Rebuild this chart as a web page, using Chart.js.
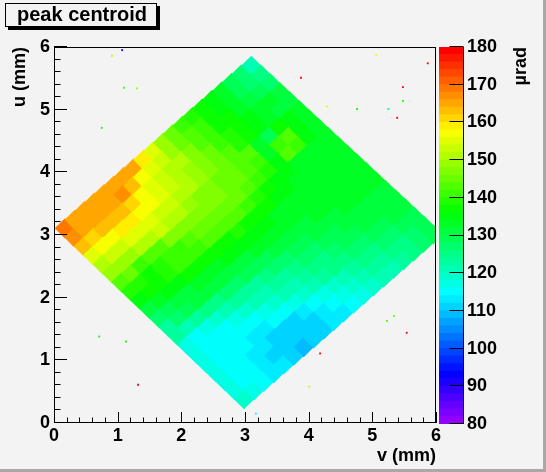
<!DOCTYPE html>
<html>
<head>
<meta charset="utf-8">
<script src="https://cdn.jsdelivr.net/npm/chart.js@4.4.0/dist/chart.umd.min.js"></script>
<style>
    html, body { margin: 0; padding: 0; background: #f3f3f3; }
    #wrap { position: relative; width: 546px; height: 472px; }
    #main { position: absolute; left: 0; top: 0; }
    #zbar { position: absolute; left: 439px; top: 0; }
</style>
</head>
<body>
<div id="wrap">
    <canvas id="main" width="546" height="472"></canvas>
    <canvas id="zbar" width="107" height="472"></canvas>
</div>
<script>
// Corners of the scanned region (mm): left, top, bottom, right
const cornerV = [0.02, 3.10, 2.98, 6.11];
const cornerU = [3.11, 5.84, 0.24, 3.01];

// Peak centroid (µrad) on the scan grid.
// Rows run from the upper-left edge to the lower-right edge,
// columns from the lower-left edge to the upper-right edge.
const centroid = [
    [168, 165, 165, 165, 165, 165, 165, 165, 158, 154, 148, 144, 141, 139, 137, 135, 133, 129, 126, 120],
    [166, 164, 164, 165, 165, 166, 162, 157, 154, 152, 148, 145, 143, 141, 138, 135, 133, 129, 126, 124],
    [163, 161, 162, 162, 162, 160, 157, 155, 153, 151, 150, 146, 143, 140, 138, 136, 133, 131, 129, 127],
    [155, 157, 157, 158, 158, 157, 156, 154, 152, 151, 149, 146, 144, 141, 139, 137, 135, 133, 132, 130],
    [151, 152, 153, 154, 154, 154, 153, 152, 151, 150, 148, 146, 145, 143, 139, 137, 134, 132, 131, 131],
    [148, 149, 149, 150, 151, 152, 151, 150, 149, 147, 146, 145, 144, 143, 142, 132, 129, 138, 134, 133],
    [143, 144, 141, 142, 143, 146, 147, 147, 147, 146, 146, 145, 144, 143, 141, 132, 141, 143, 134, 133],
    [139, 139, 138, 139, 140, 141, 143, 145, 145, 145, 144, 144, 143, 141, 139, 135, 142, 140, 134, 133],
    [135, 137, 138, 139, 140, 141, 141, 142, 142, 142, 142, 141, 139, 137, 135, 134, 133, 133, 133, 133],
    [131, 133, 134, 135, 136, 136, 137, 138, 138, 139, 138, 137, 136, 135, 134, 133, 133, 133, 133, 133],
    [127, 128, 130, 131, 132, 133, 133, 134, 134, 134, 134, 134, 133, 133, 133, 133, 133, 132, 132, 132],
    [123, 126, 128, 130, 131, 131, 131, 131, 131, 132, 132, 133, 133, 133, 133, 133, 132, 132, 132, 132],
    [122, 121, 123, 124, 125, 126, 127, 128, 128, 129, 130, 131, 131, 131, 132, 132, 132, 132, 132, 132],
    [117, 115, 116, 118, 120, 122, 123, 123, 124, 126, 127, 128, 129, 130, 131, 131, 132, 132, 132, 132],
    [116, 115, 115, 115, 117, 119, 120, 121, 122, 123, 125, 126, 127, 128, 129, 130, 131, 131, 131, 131],
    [116, 115, 114, 114, 114, 115, 117, 118, 120, 121, 123, 124, 125, 127, 128, 129, 130, 130, 131, 131],
    [116, 115, 114, 114, 113, 113, 114, 115, 116, 118, 121, 122, 124, 125, 126, 127, 128, 129, 130, 130],
    [116, 115, 114, 113, 112, 111, 111, 111, 112, 114, 116, 119, 121, 123, 124, 125, 126, 127, 128, 129],
    [117, 115, 114, 113, 111, 110, 110, 110, 111, 113, 115, 116, 118, 120, 122, 123, 124, 125, 126, 128],
    [118, 116, 114, 113, 112, 111, 109, 110, 111, 113, 113, 114, 116, 118, 120, 121, 122, 124, 126, 128]
];

// Isolated points lying outside the scanned region
const strayV = [1.07, 0.91, 1.10, 1.30, 0.75, 3.88, 5.06, 5.87, 5.48, 5.48, 4.29, 4.76, 5.25, 5.39, 0.71, 1.13, 1.32, 4.18, 4.01, 5.23, 5.34, 5.54, 3.17];
const strayU = [5.95, 5.86, 5.35, 5.34, 4.71, 5.51, 5.87, 5.74, 5.36, 5.14, 5.05, 5.01, 5.01, 4.87, 1.38, 1.30, 0.61, 1.11, 0.58, 1.63, 1.71, 1.44, 0.15];
const strayVal = [92, 150, 140, 146, 138, 178, 156, 178, 178, 138, 155, 138, 120, 178, 134, 138, 178, 178, 150, 140, 142, 178, 116];

// Axis ticks
const axisTicks = [0, 1, 2, 3, 4, 5, 6];
const minorPerMajor = 5;
const zTicks = [80, 90, 100, 110, 120, 130, 140, 150, 160, 170, 180];
const zMin = 80;
const zMax = 180;
const zLevels = 50;

const boldFont = { family: '"Liberation Sans", Arial, sans-serif', size: 18, weight: 'bold' };

/**
 * Rainbow palette: 50 levels from violet to red
 */
function paletteColor(val) {
    let k = Math.floor((val - zMin) / (zMax - zMin) * zLevels);
    k = Math.max(0, Math.min(zLevels - 1, k));
    const hue = 280 - (k + 1) * 280 / zLevels;
    return `hsl(${hue}, 100%, 50%)`;
}

// Build the grid cells (bilinear position inside the four corners)
const nRows = centroid.length;
const cells = [];
centroid.forEach((row, j) => {
    row.forEach((val, i) => {
        const s = (i + 0.5) / row.length;
        const t = (j + 0.5) / nRows;
        const w = [(1 - s) * (1 - t), s * (1 - t), (1 - s) * t, s * t];
        const v = w.reduce((acc, wk, k) => acc + wk * cornerV[k], 0);
        const u = w.reduce((acc, wk, k) => acc + wk * cornerU[k], 0);
        cells.push({ x: v, y: u, z: val });
    });
});
// Horizontal half diagonal of one cell, in mm
const cellHalfV = ((cornerV[1] - cornerV[0]) + (cornerV[2] - cornerV[0])) / (2 * centroid[0].length);

const strayPoints = strayV.map((v, k) => ({ x: v, y: strayU[k], z: strayVal[k] }));

function fixedTicks(list) {
    return scale => { scale.ticks = list.map(v => ({ value: v })); };
}

/**
 * Plugin for the frame, inner ticks and the title box
 */
const framePlugin = {
    id: 'rootFrame',
    beforeDraw(chart) {
        const ctx = chart.ctx;
        ctx.save();
        ctx.fillStyle = '#f3f3f3';
        ctx.fillRect(0, 0, chart.width, chart.height);
        ctx.fillStyle = '#a8a8a8';
        ctx.fillRect(chart.width - 3, 0, 3, chart.height);
        ctx.fillRect(0, chart.height - 3, chart.width, 3);
        ctx.restore();
    },
    afterDraw(chart) {
        const { ctx, chartArea: a } = chart;
        const xs = chart.scales.x;
        const ys = chart.scales.y;
        ctx.save();
        ctx.strokeStyle = '#000';
        ctx.lineWidth = 1;
        ctx.strokeRect(Math.round(a.left) + 0.5, Math.round(a.top) + 0.5,
            Math.round(a.right - a.left) - 1, Math.round(a.bottom - a.top) - 1);

        // ticks pointing into the frame
        ctx.beginPath();
        const step = (axisTicks[1] - axisTicks[0]) / minorPerMajor;
        const nMinor = (axisTicks.length - 1) * minorPerMajor;
        for (let k = 0; k <= nMinor; k++) {
            const val = axisTicks[0] + k * step;
            const major = k % minorPerMajor === 0;
            const px = Math.round(xs.getPixelForValue(val)) + 0.5;
            ctx.moveTo(px, a.bottom);
            ctx.lineTo(px, a.bottom - (major ? 11 : 5.5));
            const py = Math.round(ys.getPixelForValue(val)) - 0.5;
            ctx.moveTo(a.left, py);
            ctx.lineTo(a.left + (major ? 13 : 6.5), py);
        }
        ctx.stroke();

        // title box with shadow
        ctx.fillStyle = '#000';
        ctx.fillRect(8, 6, 152, 24);
        ctx.fillStyle = '#f3f3f3';
        ctx.fillRect(5, 3, 152, 24);
        ctx.strokeRect(5.5, 3.5, 151, 23);
        ctx.fillStyle = '#000';
        ctx.font = 'bold 20px "Liberation Sans", Arial, sans-serif';
        ctx.textBaseline = 'alphabetic';
        ctx.fillText('peak centroid', 17, 21);
        ctx.restore();
    }
};

const mainChart = new Chart(document.getElementById('main'), {
    type: 'scatter',
    data: {
        datasets: [{
            label: 'peak centroid',
            data: cells,
            pointStyle: 'rectRot',
            pointRadius: c => Math.abs(c.chart.scales.x.getPixelForValue(cellHalfV) - c.chart.scales.x.getPixelForValue(0)) + 0.5,
            pointBackgroundColor: c => paletteColor(c.raw.z),
            pointBorderWidth: 0,
            clip: 0
        }, {
            label: 'stray',
            data: strayPoints,
            pointStyle: 'rect',
            pointRadius: 1.3,
            pointBackgroundColor: c => paletteColor(c.raw.z),
            pointBorderWidth: 0,
            clip: 0
        }]
    },
    options: {
        responsive: false,
        animation: false,
        events: [],
        layout: { padding: { left: 0, top: 47, right: 110, bottom: 0 } },
        plugins: { legend: { display: false }, tooltip: { enabled: false } },
        scales: {
            x: {
                type: 'linear', min: 0, max: 6,
                afterBuildTicks: fixedTicks(axisTicks),
                grid: { display: false, drawTicks: false },
                border: { display: false },
                ticks: { color: '#000', font: boldFont, padding: 2, maxRotation: 0, autoSkip: false },
                title: { display: true, text: 'v (mm)', align: 'end', color: '#000', font: boldFont, padding: { top: 0, bottom: 5 } },
                afterFit: scale => { scale.height = 49; }
            },
            y: {
                type: 'linear', min: 0, max: 6,
                afterBuildTicks: fixedTicks(axisTicks),
                grid: { display: false, drawTicks: false },
                border: { display: false },
                ticks: { color: '#000', font: boldFont, padding: 4, autoSkip: false },
                title: { display: true, text: 'u (mm)', align: 'end', color: '#000', font: boldFont, padding: { top: 9, bottom: 0 } },
                afterFit: scale => { scale.width = 54; }
            }
        }
    },
    plugins: [framePlugin]
});

/**
 * Plugin for the palette axis line, ticks and unit
 */
const zbarPlugin = {
    id: 'zbarAxis',
    afterDraw(chart) {
        const { ctx, chartArea: a } = chart;
        const ys = chart.scales.y;
        ctx.save();
        ctx.strokeStyle = '#000';
        ctx.lineWidth = 1;
        ctx.beginPath();
        const xr = Math.round(a.right) - 0.5;
        ctx.moveTo(xr, a.top);
        ctx.lineTo(xr, a.bottom);
        zTicks.forEach(val => {
            const py = Math.round(ys.getPixelForValue(val)) - 0.5;
            ctx.moveTo(xr, py);
            ctx.lineTo(xr - 14, py);
        });
        ctx.stroke();

        ctx.fillStyle = '#000';
        ctx.font = 'bold 18px "Liberation Sans", Arial, sans-serif';
        ctx.translate(82, a.top);
        ctx.rotate(-Math.PI / 2);
        ctx.textAlign = 'right';
        ctx.textBaseline = 'middle';
        ctx.fillText('µrad', 0, 0);
        ctx.restore();
    }
};

const zStep = (zMax - zMin) / zLevels;
const zLevelStarts = Array.from({ length: zLevels }, (_, k) => zMin + k * zStep);

const zbarChart = new Chart(document.getElementById('zbar'), {
    type: 'bar',
    data: {
        labels: [''],
        datasets: zLevelStarts.map(lo => ({
            data: [[lo, lo + zStep]],
            backgroundColor: paletteColor(lo + zStep / 2),
            borderWidth: 0,
            barPercentage: 1,
            categoryPercentage: 1,
            grouped: false,
            inflateAmount: 0.5
        }))
    },
    options: {
        responsive: false,
        animation: false,
        events: [],
        layout: { padding: { left: 0, right: 0, top: 47, bottom: 48 } },
        plugins: { legend: { display: false }, tooltip: { enabled: false } },
        scales: {
            x: { display: false },
            y: {
                position: 'right', min: zMin, max: zMax,
                afterBuildTicks: fixedTicks(zTicks),
                grid: { display: false, drawTicks: false },
                border: { display: false },
                ticks: { color: '#000', font: boldFont, padding: 3, autoSkip: false },
                afterFit: scale => { scale.width = 82; }
            }
        }
    },
    plugins: [zbarPlugin]
});
</script>
</body>
</html>
